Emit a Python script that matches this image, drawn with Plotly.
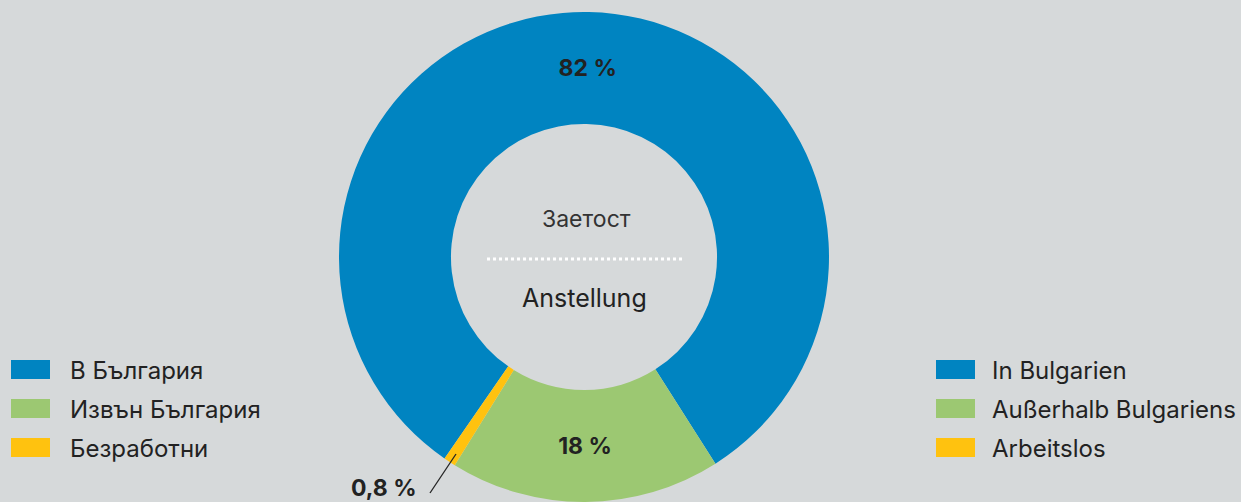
import plotly.graph_objects as go

# Data
labels_bg = ["В България", "Извън България", "Безработни"]
labels_de = ["In Bulgarien", "Außerhalb Bulgariens", "Arbeitslos"]
values = [82, 18, 0.8]
value_text = ["82 %", "18 %", "0,8 %"]
colors = ["#0084C1", "#9CC872", "#FFC20F"]
center_top = "Заетост"
center_bottom = "Anstellung"

W, H = 1241, 502
BG = "#D6D9DA"
FONT = "Inter"
TXT = "#222222"

cx, r = 584, 245
fig = go.Figure()
fig.add_trace(go.Pie(
    labels=labels_bg,
    values=values,
    text=value_text,
    texttemplate=["%{text}", "%{text}", ""],
    textinfo="text",
    textposition="inside",
    insidetextorientation="horizontal",
    textfont=dict(family=FONT, size=23, color=TXT, weight="bold"),
    marker=dict(colors=colors, line=dict(width=0)),
    hole=0.543,
    sort=False,
    direction="clockwise",
    rotation=214.7,
    showlegend=False,
    domain=dict(x=[(cx - r) / W, (cx + r) / W], y=[0, 2 * r / H]),
    hoverinfo="label+percent",
))

shapes = []
annotations = []

def px_x(x):
    return x / W
def px_y(y):
    return 1 - y / H

# Legends (left: Bulgarian, right: German)
row_y = [369.5, 408.5, 447.5]
for sw_x0, txt_x, labs in [(11, 68, labels_bg), (936, 990, labels_de)]:
    for i, lab in enumerate(labs):
        yc = row_y[i]
        shapes.append(dict(type="rect", xref="paper", yref="paper",
                           x0=px_x(sw_x0), x1=px_x(sw_x0 + 39),
                           y0=px_y(yc + 9.5), y1=px_y(yc - 9.5),
                           fillcolor=colors[i], line=dict(width=0)))
        annotations.append(dict(text=lab, x=px_x(txt_x), y=px_y(yc + 1), xref="paper", yref="paper",
                                xanchor="left", yanchor="middle", showarrow=False,
                                font=dict(family=FONT, size=24, color=TXT)))

# Center texts
annotations.append(dict(text=center_top, x=px_x(cx + 2), y=px_y(219), xref="paper", yref="paper",
                        xanchor="center", yanchor="middle", showarrow=False,
                        font=dict(family=FONT, size=23, color="#333333")))
annotations.append(dict(text=center_bottom, x=px_x(cx), y=px_y(298), xref="paper", yref="paper",
                        xanchor="center", yanchor="middle", showarrow=False,
                        font=dict(family=FONT, size=25, color=TXT)))
shapes.append(dict(type="line", xref="paper", yref="paper",
                   x0=px_x(487), x1=px_x(682), y0=px_y(259), y1=px_y(259),
                   line=dict(color="white", width=3, dash="dot")))

# Outside label for small slice
annotations.append(dict(text=value_text[2], x=px_x(419), y=px_y(488), xref="paper", yref="paper",
                        xanchor="right", yanchor="middle", showarrow=False,
                        font=dict(family=FONT, size=23, color=TXT, weight="bold")))
shapes.append(dict(type="line", xref="paper", yref="paper",
                   x0=px_x(430), x1=px_x(456), y0=px_y(493), y1=px_y(454),
                   line=dict(color="#222222", width=1.3)))

fig.update_layout(
    width=W, height=H,
    margin=dict(l=0, r=0, t=0, b=0),
    paper_bgcolor=BG, plot_bgcolor=BG,
    shapes=shapes, annotations=annotations,
    showlegend=False,
)
fig.write_html("out.html", config={"displayModeBar": False},
               post_script="document.body.style.margin='0';document.body.style.overflow='hidden';")
